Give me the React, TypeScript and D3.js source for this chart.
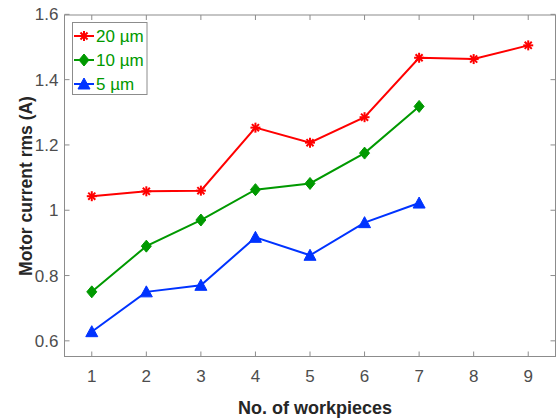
import React, { useRef, useEffect } from 'react';
import * as d3 from 'd3';

// chart data
const workpieces = [1, 2, 3, 4, 5, 6, 7, 8, 9];
const current20 = [1.043, 1.058, 1.06, 1.253, 1.207, 1.285, 1.467, 1.463, 1.505];
const current10 = [0.75, 0.89, 0.97, 1.063, 1.082, 1.175, 1.318];
const current5 = [0.628, 0.75, 0.77, 0.917, 0.862, 0.962, 1.022];
const yTicks = [0.6, 0.8, 1, 1.2, 1.4, 1.6];
const seriesNames = ['20 µm', '10 µm', '5 µm'];

const App = () => {
    const svgRef = useRef<SVGSVGElement>(null);

    useEffect(() => {
        const root = d3.select(svgRef.current);
        root.selectAll('*').remove();

        const width = 558;
        const height = 418;
        const left = 64.5, right = 555.5, top = 15, bottom = 356.5;
        const font = 'Liberation Sans, Arial, sans-serif';
        const axisColor = '#8c8c8c';
        const labelColor = '#4d4d4d';

        const x = d3.scaleLinear().domain([0.5, 9.5]).range([left, right]);
        const y = d3.scaleLinear().domain([0.552, 1.598]).range([bottom, top]);

        const svg = root.attr('width', width).attr('height', height);

        // axes box
        svg.append('rect')
            .attr('x', left).attr('y', top)
            .attr('width', right - left).attr('height', bottom - top)
            .attr('fill', 'white').attr('stroke', axisColor).attr('stroke-width', 1);

        // ticks (inward, mirrored on top/right)
        const tl = 5;
        workpieces.forEach(v => {
            svg.append('line').attr('x1', x(v)).attr('x2', x(v)).attr('y1', bottom).attr('y2', bottom - tl).attr('stroke', axisColor);
            svg.append('line').attr('x1', x(v)).attr('x2', x(v)).attr('y1', top).attr('y2', top + tl).attr('stroke', axisColor);
            svg.append('text').attr('x', x(v)).attr('y', bottom + 25)
                .attr('text-anchor', 'middle').attr('font-family', font).attr('font-size', 17)
                .attr('fill', labelColor).text(v);
        });
        yTicks.forEach(v => {
            svg.append('line').attr('x1', left).attr('x2', left + tl).attr('y1', y(v)).attr('y2', y(v)).attr('stroke', axisColor);
            svg.append('line').attr('x1', right).attr('x2', right - tl).attr('y1', y(v)).attr('y2', y(v)).attr('stroke', axisColor);
            svg.append('text').attr('x', left - 6).attr('y', y(v) + 6)
                .attr('text-anchor', 'end').attr('font-family', font).attr('font-size', 17)
                .attr('fill', labelColor).text(v === 1 ? '1' : d3.format('.1f')(v));
        });

        // axis titles
        svg.append('text').attr('x', 315).attr('y', 414)
            .attr('text-anchor', 'middle').attr('font-family', font).attr('font-size', 18)
            .attr('font-weight', 'bold').attr('fill', '#262626').text('No. of workpieces');
        svg.append('text').attr('transform', `translate(32,186) rotate(-90)`)
            .attr('text-anchor', 'middle').attr('font-family', font).attr('font-size', 17.5)
            .attr('font-weight', 'bold').attr('fill', '#262626').text('Motor current rms (A)');

        const colors = ['#ff0000', '#009900', '#0033ff'];
        const data = [current20, current10, current5];

        const star = (g, cx, cy, c) => {
            const r = 5;
            [0, 45, 90, 135].forEach(a => {
                const rad = (a * Math.PI) / 180;
                g.append('line')
                    .attr('x1', cx - r * Math.cos(rad)).attr('y1', cy - r * Math.sin(rad))
                    .attr('x2', cx + r * Math.cos(rad)).attr('y2', cy + r * Math.sin(rad))
                    .attr('stroke', c).attr('stroke-width', 2);
            });
        };
        const diamond = (g, cx, cy, c) => {
            g.append('path')
                .attr('d', `M${cx},${cy - 6}L${cx + 5},${cy}L${cx},${cy + 6}L${cx - 5},${cy}Z`)
                .attr('fill', c).attr('stroke', c).attr('stroke-width', 1);
        };
        const triangle = (g, cx, cy, c) => {
            g.append('path')
                .attr('d', `M${cx},${cy - 6}L${cx + 6},${cy + 5}L${cx - 6},${cy + 5}Z`)
                .attr('fill', c).attr('stroke', c).attr('stroke-width', 1);
        };
        const markers = [star, diamond, triangle];

        const line = d3.line<number>()
            .x((d, i) => x(workpieces[i]))
            .y(d => y(d));

        data.forEach((vals, s) => {
            const g = svg.append('g');
            g.append('path').datum(vals)
                .attr('d', line)
                .attr('fill', 'none').attr('stroke', colors[s]).attr('stroke-width', 2);
            vals.forEach((v, i) => markers[s](g, x(workpieces[i]), y(v), colors[s]));
        });

        // legend
        const lg = svg.append('g');
        lg.append('rect').attr('x', 72.5).attr('y', 22.5).attr('width', 74.5).attr('height', 72)
            .attr('fill', 'white').attr('stroke', axisColor).attr('stroke-width', 1);
        seriesNames.forEach((name, s) => {
            const cy = 36 + s * 24;
            lg.append('line').attr('x1', 74).attr('x2', 94).attr('y1', cy).attr('y2', cy)
                .attr('stroke', colors[s]).attr('stroke-width', 2);
            markers[s](lg, 84, cy, colors[s]);
            lg.append('text').attr('x', 96).attr('y', cy + 6)
                .attr('font-family', font).attr('font-size', 17)
                .attr('fill', '#009900').text(name);
        });
    }, []);

    return <svg ref={svgRef} style={{ position: 'absolute', left: 0, top: 0 }}></svg>;
};

export default App;
